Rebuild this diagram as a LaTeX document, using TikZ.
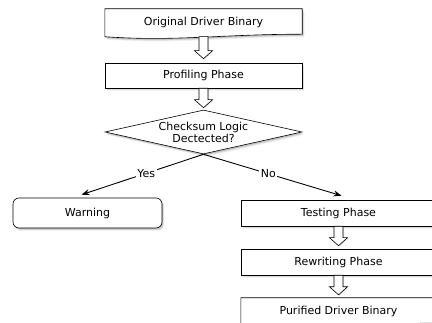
\documentclass[tikz,border=0pt]{standalone}
\usepackage{fontspec}
\setmainfont{DejaVu Sans}
\usetikzlibrary{shapes.geometric,arrows.meta,shadows,calc,backgrounds}

\newcommand{\docoutline}[1]{%
  \draw[docline] (#1.north west) -- (#1.north east) -- ([yshift=2.5pt]#1.south east)
    .. controls ([xshift=-80pt,yshift=2.5pt]#1.south east) and ([xshift=70pt,yshift=-5pt]#1.south west) .. (#1.south west) -- cycle;}

\begin{document}
\begin{tikzpicture}[x=1pt, y=-1pt,
  every node/.style={font=\fontsize{11}{12}\selectfont},
  boxshadow/.style={drop shadow={shadow xshift=2.4pt, shadow yshift=-3pt, opacity=.1},
    drop shadow={shadow xshift=1.7pt, shadow yshift=-2.2pt, opacity=.18},
    drop shadow={shadow xshift=1pt, shadow yshift=-1.4pt, opacity=.3}},
  phase/.style={rectangle, draw, line width=.6pt, fill=white, minimum width=197pt, minimum height=25pt, inner sep=0pt, boxshadow},
  docbox/.style={rectangle, minimum width=197pt, minimum height=27.5pt, inner sep=0pt},
  docline/.style={draw, line width=.6pt, fill=white, boxshadow},
  decision/.style={diamond, draw, line width=.6pt, fill=white, aspect=4.48, inner sep=0pt, minimum width=197pt, minimum height=44pt, align=center, boxshadow},
  warnbox/.style={phase, rounded corners=6pt, minimum width=149pt, minimum height=30pt},
  choice/.style={line width=.9pt, -{Stealth[length=8pt,width=6pt]}},
  answer/.style={fill=white, inner sep=1.5pt},
  hollow/.style={line width=.6pt, fill=white, drop shadow={shadow xshift=1pt, shadow yshift=-1pt, opacity=.2},
    to path={let \p1=(\tikztostart), \p2=(\tikztotarget) in
      (\x1-4.5pt,\y1) -- (\x1-4.5pt,\y2+8pt) -- (\x1-9pt,\y2+8pt) -- (\x1,\y2)
      -- (\x1+9pt,\y2+8pt) -- (\x1+4.5pt,\y2+8pt) -- (\x1+4.5pt,\y1) -- cycle}}
]
  \useasboundingbox (0,0) rectangle (432,323);

  \node[docbox] (orig) at (203.5,22.75) {Original Driver Binary};
  \node[phase] (prof) at (203.5,75.5) {Profiling Phase};
  \node[decision] (check) at (203.5,132) {Checksum Logic\\Dectected?};
  \node[warnbox] (warn) at (87.5,213) {Warning};
  \node[phase, minimum width=195pt, minimum height=26pt] (test) at (338.5,213) {Testing Phase};
  \node[phase, minimum width=195pt, minimum height=26pt] (rewrite) at (338.5,262) {Rewriting Phase};
  \node[docbox, minimum width=195pt] (pure) at (338.5,311.75) {Purified Driver Binary};

  \begin{scope}[on background layer]
    \docoutline{orig}
    \docoutline{pure}
  \end{scope}

  % block arrows between the phases
  \path (orig.south) edge[hollow] ([yshift=4pt]prof.north)
        (prof.south) edge[hollow] ([yshift=2pt]check.north)
        (test.south) edge[hollow] ([yshift=3pt]rewrite.north)
        (rewrite.south) edge[hollow] ([yshift=3pt]pure.north);

  % decision outcomes
  \path[choice]
  (check.south) edge node[answer, pos=.47] {Yes} ([xshift=-6pt,yshift=3pt]warn.north)
                edge node[answer, pos=.47] {No} ([xshift=3pt,yshift=4pt]test.north);
\end{tikzpicture}
\end{document}
